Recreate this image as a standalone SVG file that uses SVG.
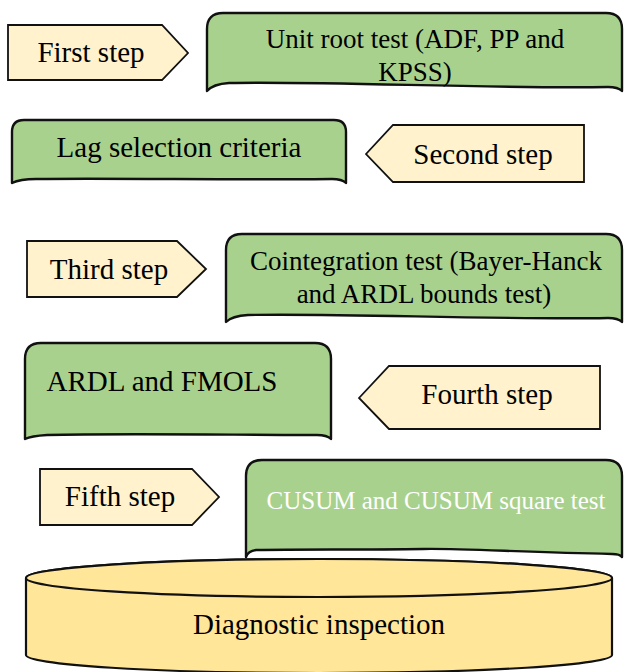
<svg xmlns="http://www.w3.org/2000/svg" width="624" height="672" viewBox="0 0 624 672">
<style>
.step{fill:#FFF2CC;stroke:#111;stroke-width:1.8;stroke-linejoin:miter}
.box{fill:#A9D18E;stroke:#111;stroke-width:2.4;stroke-linejoin:round}
.cyl{fill:#FFE699;stroke:#111;stroke-width:2.2}
text{font-family:"Liberation Serif","Times New Roman",serif;font-size:29px;fill:#000;text-anchor:middle}
.s27{font-size:27px}
.white{fill:#fff;font-size:25px}
</style>
<rect width="624" height="672" fill="#fff"/>
<g id="connectors"></g>
<g id="step1">
<polygon class="step" points="8,25 162,25 188,53 162,80 8,80"/>
<text x="91" y="62">First step</text>
</g>
<g id="unitroot">
<path class="box" d="M207,91 L207,29 Q207,13 223,13 L606,13 Q622,13 622,29 L622,91 Q618,87 608,87 C490,89 330,81 229,83 Q213,84 207,91 Z"/>
<text class="s27" x="415" y="48">Unit root test (ADF, PP and</text>
<text class="s27" x="415" y="81">KPSS)</text>
</g>
<g id="lag">
<path class="box" d="M12,183 L12,132 Q12,120 24,120 L334,120 Q346,120 346,132 L346,183 Q342,179 332,179 C250,180 100,178 36,179 Q20,179 12,183 Z"/>
<text x="179" y="157">Lag selection criteria</text>
</g>
<g id="step2">
<polygon class="step" points="366,154 393,125 584,125 584,182 393,182"/>
<text x="483" y="164">Second step</text>
</g>
<g id="step3">
<polygon class="step" points="27,241 177,241 206,269 177,297 27,297"/>
<text x="109" y="279">Third step</text>
</g>
<g id="coint">
<path class="box" d="M226,322 L226,250 Q226,234 242,234 L606,234 Q622,234 622,250 L622,322 Q618,318 608,318 C495,320 340,313 248,315 Q232,316 226,322 Z"/>
<text class="s27" x="426" y="270">Cointegration test (Bayer-Hanck</text>
<text class="s27" x="424" y="303">and ARDL bounds test)</text>
</g>
<g id="ardl">
<path class="box" d="M25,439 L25,359 Q25,343 41,343 L315,343 Q331,343 331,359 L331,439 Q327,435 317,435 C240,435 120,433 47,435 Q31,436 25,439 Z"/>
<text x="162" y="391">ARDL and FMOLS</text>
</g>
<g id="step4">
<polygon class="step" points="359,398 389,366 600,366 600,429 389,429"/>
<text x="487" y="404">Fourth step</text>
</g>
<g id="step5">
<polygon class="step" points="40,469 192,469 219,497 192,525 40,525"/>
<text x="120" y="506">Fifth step</text>
</g>
<g id="cusum">
<path class="box" d="M246,557 L246,476 Q246,460 262,460 L606,460 Q622,460 622,476 L622,557 Q620,554 612,554 C520,552 450,548 423,549 C360,550 300,549 256,550 Q248,551 246,557 Z"/>
<text class="white" x="436" y="509">CUSUM and CUSUM square test</text>
</g>
<g id="diagnostic">
<path class="cyl" d="M26,578 L26,655 A293,18 0 0 0 612,655 L612,578 A293,19 0 0 0 26,578 Z"/>
<ellipse class="cyl" cx="319" cy="578" rx="293" ry="19"/>
<text x="319" y="634">Diagnostic inspection</text>
</g>
</svg>
